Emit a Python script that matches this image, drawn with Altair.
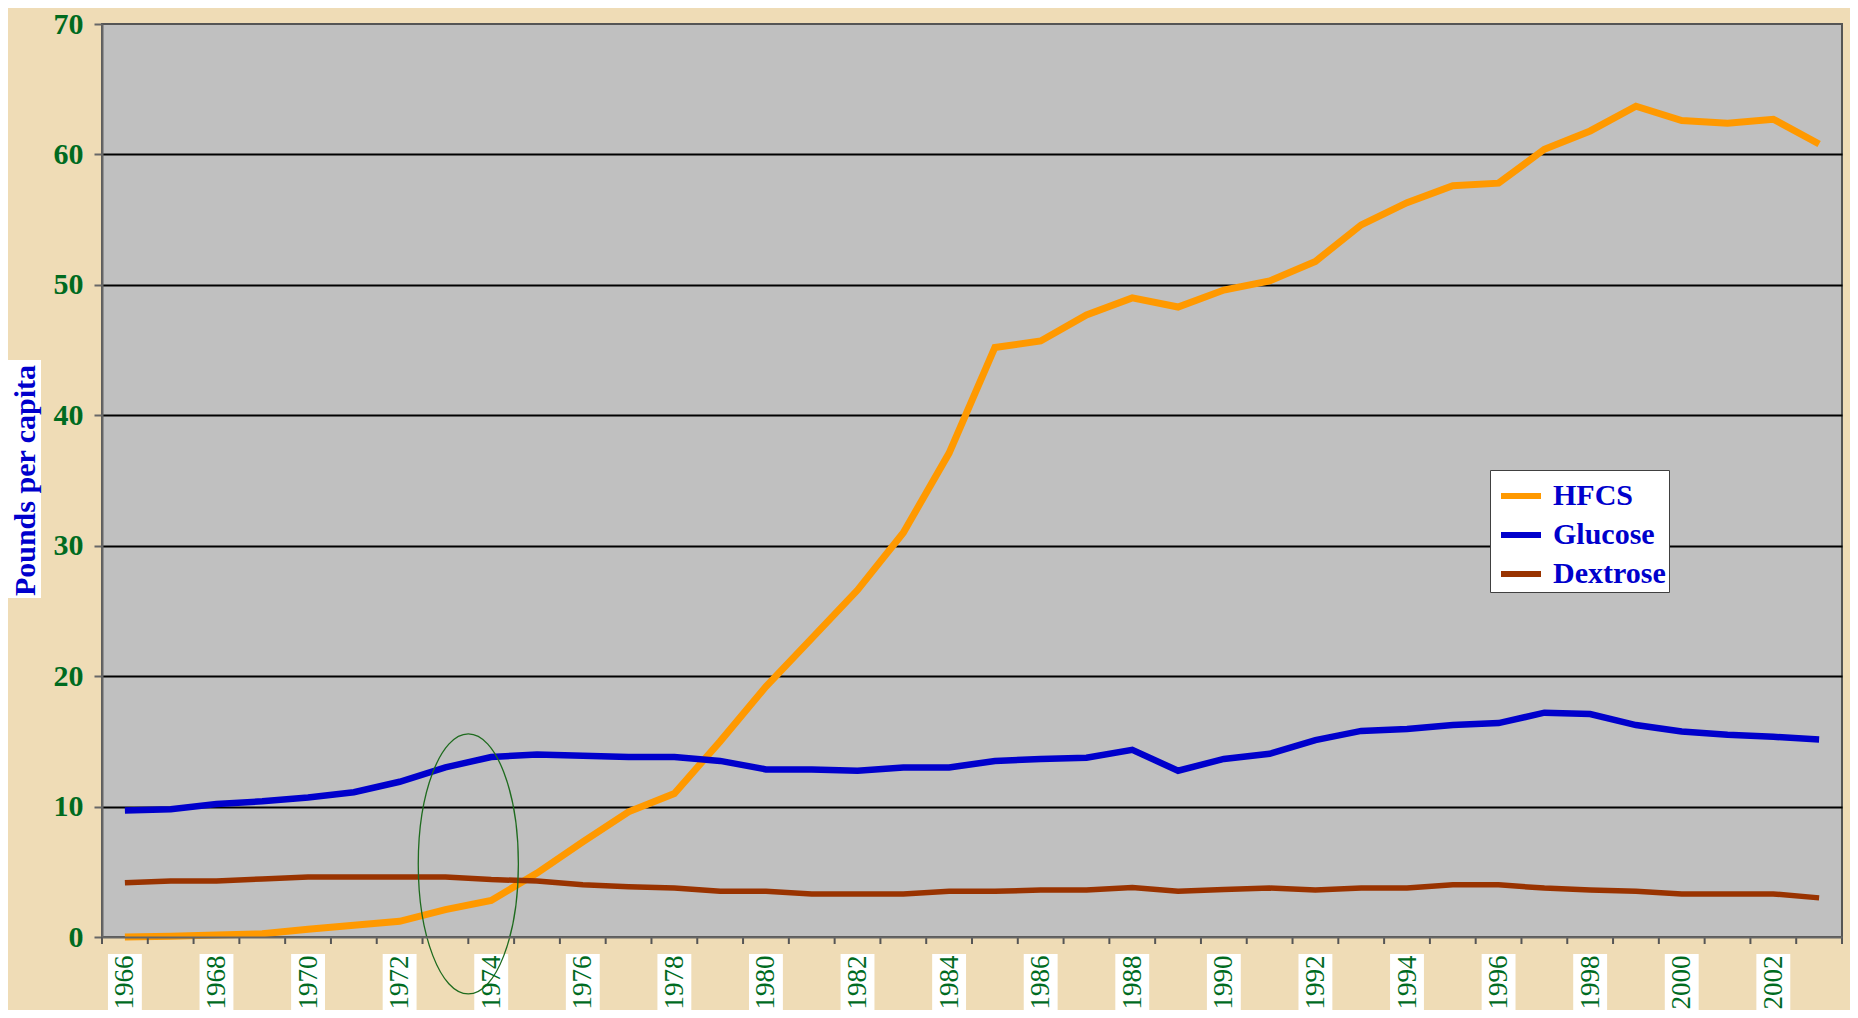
import altair as alt
import pandas as pd

# ---------------- data ----------------
years = list(range(1966, 2004))
hfcs = [0.0, 0.05, 0.15, 0.25, 0.6, 0.9, 1.2, 2.1, 2.8, 4.9,
        7.3, 9.6, 11.0, 15.0, 19.2, 22.9, 26.6, 31.0, 37.1, 45.2,
        45.7, 47.7, 49.0, 48.3, 49.6, 50.3, 51.8, 54.6, 56.3, 57.6,
        57.8, 60.4, 61.8, 63.7, 62.6, 62.4, 62.7, 60.8]
glucose = [9.7, 9.8, 10.2, 10.4, 10.7, 11.1, 11.9, 13.0, 13.8, 14.0,
           13.9, 13.8, 13.8, 13.5, 12.85, 12.85, 12.75, 13.0, 13.0, 13.5,
           13.65, 13.75, 14.35, 12.75, 13.65, 14.05, 15.1, 15.8, 15.95, 16.25,
           16.4, 17.2, 17.1, 16.25, 15.75, 15.5, 15.35, 15.15]
dextrose = [4.15, 4.3, 4.3, 4.45, 4.6, 4.6, 4.6, 4.6, 4.4, 4.3,
            4.0, 3.85, 3.75, 3.5, 3.5, 3.3, 3.3, 3.3, 3.5, 3.5,
            3.6, 3.6, 3.8, 3.5, 3.65, 3.75, 3.6, 3.75, 3.75, 4.0,
            4.0, 3.75, 3.6, 3.5, 3.3, 3.3, 3.3, 3.0]
series_names = ["HFCS", "Glucose", "Dextrose"]
series_colors = ["#FF9900", "#0000CC", "#993300"]
series_widths = [7, 6.5, 5.5]
y_ticks = [0, 10, 20, 30, 40, 50, 60, 70]
x_label_years = list(range(1966, 2003, 2))
x_boundaries = [y - 0.5 for y in range(1966, 2005)]
y_title = "Pounds per capita"
ellipse_year = [1973.5]
ellipse_value = [5.6]

rows = []
for name, vals in zip(series_names, [hfcs, glucose, dextrose]):
    for yr, v in zip(years, vals):
        rows.append({"Year": yr, "Series": name, "Value": v})
df = pd.DataFrame(rows)

# ---------------- layout / style ----------------
W, H = 1740, 913
GREEN = "#006B1F"
BLUE = "#0000CC"
SERIF = "Liberation Serif"

x_scale = alt.Scale(domain=[1965.5, 2003.5], nice=False, zero=False)
y_scale = alt.Scale(domain=[0, 70], nice=False, zero=True)

x_axis = alt.Axis(
    values=x_label_years, format="d",
    labelAngle=270, labelAlign="right", labelBaseline="middle",
    labelFont=SERIF, labelFontSize=27, labelColor=GREEN,
    labelPadding=11, labelOverlap=False, labelFlush=False,
    tickSize=7, tickOpacity=0,
    domainColor="#666666", domainWidth=2,
    grid=False, title=None, zindex=1,
)
y_axis = alt.Axis(
    values=y_ticks,
    labelFont=SERIF, labelFontSize=30, labelFontWeight="bold", labelColor=GREEN,
    labelPadding=11, tickSize=8, tickWidth=2, tickColor="#666666",
    domainColor="#666666", domainWidth=2,
    grid=True, gridColor="black", gridWidth=2,
    gridOpacity={"condition": {"test": "datum.value == 0 || datum.value == 70", "value": 0}, "value": 1},
    title=None,
)

color_enc = alt.Color(
    "Series:N",
    scale=alt.Scale(domain=series_names, range=series_colors),
    sort=series_names,
    legend=alt.Legend(
        title=None, orient="none", legendX=1388, legendY=446,
        fillColor="white", strokeColor="#404040", padding=3,
        symbolType="stroke", symbolSize=1600, symbolStrokeWidth=6,
        symbolOffset=5, labelOffset=9, rowPadding=1,
        labelFont=SERIF, labelFontSize=30, labelFontWeight="bold",
        labelColor=BLUE, labelLimit=400,
    ),
)

line_layers = []
for i, (name, width) in enumerate(zip(series_names, series_widths)):
    if i == 0:
        xe = alt.X("Year:Q", scale=x_scale, axis=x_axis)
        ye = alt.Y("Value:Q", scale=y_scale, axis=y_axis)
    else:
        xe = alt.X("Year:Q", scale=x_scale)
        ye = alt.Y("Value:Q", scale=y_scale)
    line_layers.append(
        alt.Chart(df).transform_filter(alt.datum.Series == name)
        .mark_line(strokeWidth=width)
        .encode(x=xe, y=ye, color=color_enc)
    )

tick_marks = alt.Chart(pd.DataFrame({"b": x_boundaries})).mark_rule(
    color="#555555", strokeWidth=2
).encode(
    x=alt.X("b:Q", scale=x_scale),
    y=alt.value(H),
    y2=alt.value(H + 7),
)

label_boxes = alt.Chart(pd.DataFrame({"Year": x_label_years})).transform_calculate(
    x0="datum.Year - 0.37", x1="datum.Year + 0.37"
).mark_rect(color="white").encode(
    x=alt.X("x0:Q", scale=x_scale),
    x2="x1:Q",
    y=alt.value(H + 17),
    y2=alt.value(H + 110),
)

title_df = pd.DataFrame({"t": [y_title]})
title_box = alt.Chart(title_df).mark_rect(color="white").encode(
    x=alt.value(-95), x2=alt.value(-61), y=alt.value(336), y2=alt.value(574)
)
title_text = alt.Chart(title_df).mark_text(
    angle=270, align="center", baseline="alphabetic",
    font=SERIF, fontSize=30, fontWeight="bold", color=BLUE,
).encode(x=alt.value(-67), y=alt.value(H / 2), text="t:N")

ELLIPSE = "M0,-1 A0.385,1 0 1,1 0,1 A0.385,1 0 1,1 0,-1 Z"
ellipse = alt.Chart(pd.DataFrame({"Year": ellipse_year, "Value": ellipse_value})).mark_point(
    shape=ELLIPSE, size=67600, filled=False, stroke="#1E6B1E", strokeWidth=1.3, opacity=1
).encode(
    x=alt.X("Year:Q", scale=x_scale),
    y=alt.Y("Value:Q", scale=y_scale),
)

chart = alt.layer(*line_layers, tick_marks, label_boxes, title_box, title_text, ellipse).properties(
    width=W, height=H,
    padding={"left": 94, "top": 16, "right": 8, "bottom": 73},
    autosize=alt.AutoSizeParams(type="none"),
    background="#EFDCB6",
).configure_view(fill="#C0C0C0", stroke="#555555", strokeWidth=2)

chart.save("out.html", embed_options={"renderer": "svg", "actions": False})
